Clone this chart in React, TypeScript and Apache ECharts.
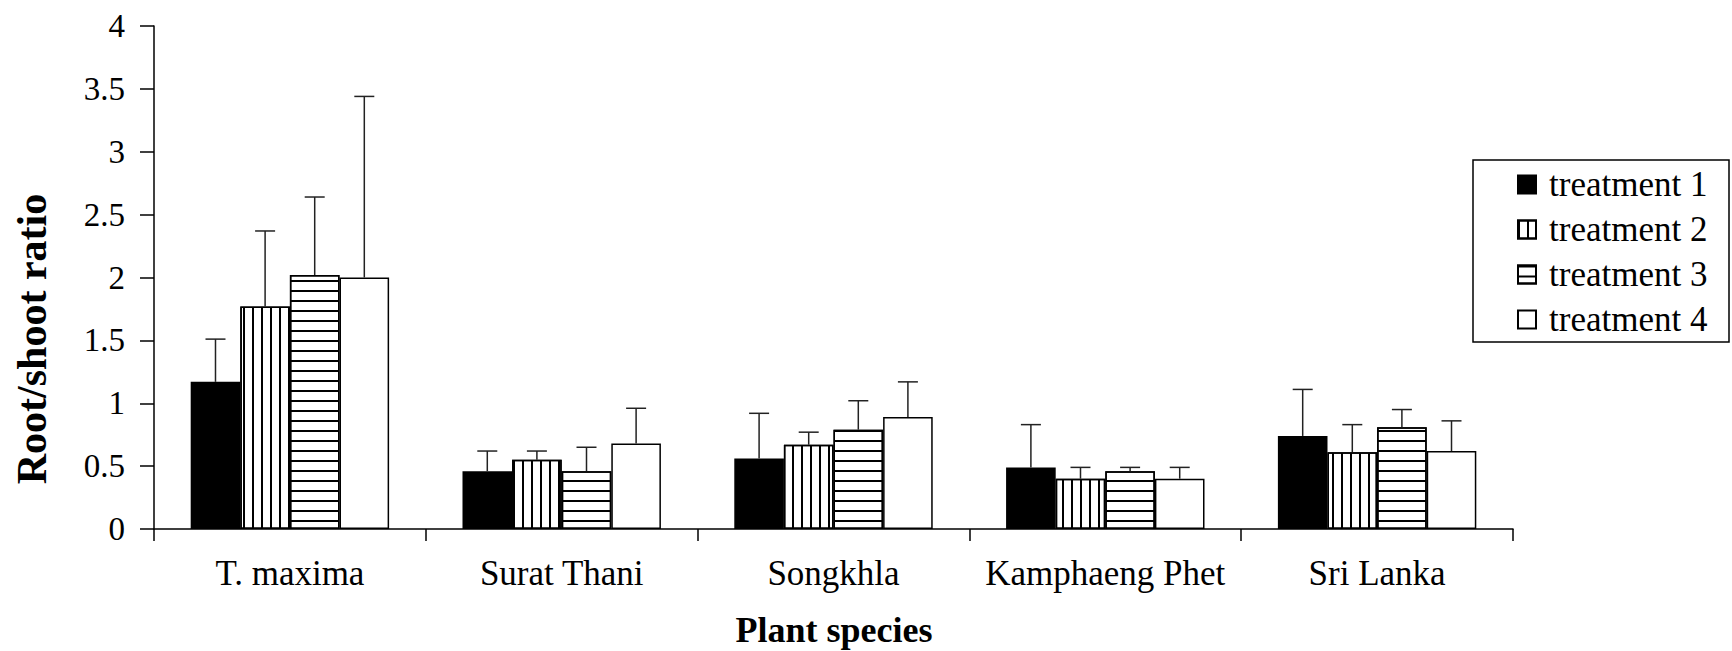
import React, { useEffect, useRef } from "react";
import * as echarts from "echarts";

const categories = ["T. maxima", "Surat Thani", "Songkhla", "Kamphaeng Phet", "Sri Lanka"];
const seriesNames = ["treatment 1", "treatment 2", "treatment 3", "treatment 4"];
const treatment1 = [1.17, 0.46, 0.56, 0.49, 0.74];
const treatment2 = [1.77, 0.55, 0.67, 0.4, 0.61];
const treatment3 = [2.02, 0.46, 0.79, 0.46, 0.81];
const treatment4 = [2.0, 0.68, 0.89, 0.4, 0.62];
const treatment1Err = [0.34, 0.16, 0.36, 0.34, 0.37];
const treatment2Err = [0.6, 0.07, 0.1, 0.09, 0.22];
const treatment3Err = [0.62, 0.19, 0.23, 0.03, 0.14];
const treatment4Err = [1.44, 0.28, 0.28, 0.09, 0.24];
const yTicks = [0, 0.5, 1, 1.5, 2, 2.5, 3, 3.5, 4];

const values = [treatment1, treatment2, treatment3, treatment4];
const errors = [treatment1Err, treatment2Err, treatment3Err, treatment4Err];

const SERIF = "Liberation Serif";
const CAT_GAP = 0.27;

const decals: any[] = [
  undefined,
  { symbol: "rect", symbolSize: 1, dashArrayX: [2, 6.3], dashArrayY: [1, 0], color: "#000", backgroundColor: "#fff", rotation: 0 },
  { symbol: "rect", symbolSize: 1, dashArrayX: [1, 0], dashArrayY: [2, 7.2], color: "#000", backgroundColor: "#fff", rotation: 0 },
  undefined,
];
const fills = ["#000", "#fff", "#fff", "#fff"];

export default function App() {
  const ref = useRef<HTMLDivElement>(null);
  useEffect(() => {
    if (!ref.current) return;
    const chart = echarts.init(ref.current, null, { renderer: "svg" });

    const barSeries = values.map((vals, k) => ({
      name: seriesNames[k],
      type: "bar",
      data: vals,
      barGap: "0%",
      barCategoryGap: CAT_GAP * 100 + "%",
      itemStyle: {
        color: fills[k],
        borderColor: "#000",
        borderWidth: 1.5,
        decal: decals[k],
      },
      z: 2,
    }));

    const errSeries = values.map((vals, k) => ({
      name: seriesNames[k] + " err",
      type: "custom",
      data: vals.map((v, i) => [i, v, errors[k][i]]),
      encode: { x: 0, y: 1 },
      z: 3,
      renderItem: (params: any, api: any) => {
        const ci = api.value(0);
        const v = api.value(1);
        const e = api.value(2);
        const bandW = api.size([1, 0])[0];
        const barW = (bandW * (1 - CAT_GAP)) / 4;
        const off = (k - 1.5) * barW;
        const p0 = api.coord([ci, v]);
        const p1 = api.coord([ci, v + e]);
        const x = p0[0] + off;
        const st = { stroke: "#222", lineWidth: 1.5 };
        return {
          type: "group",
          children: [
            { type: "line", shape: { x1: x, y1: p0[1], x2: x, y2: p1[1] }, style: st },
            { type: "line", shape: { x1: x - 10, y1: p1[1], x2: x + 10, y2: p1[1] }, style: st },
          ],
        };
      },
    }));

    chart.setOption({
      animation: false,
      backgroundColor: "#fff",
      grid: { left: 154, right: 219, top: 26, bottom: 122, containLabel: false },
      xAxis: {
        type: "category",
        data: categories,
        axisLine: { lineStyle: { color: "#000", width: 1.5 } },
        axisTick: { show: true, length: 12, lineStyle: { color: "#000", width: 1.5 } },
        axisLabel: { color: "#000", fontFamily: SERIF, fontSize: 35, margin: 27, interval: 0 },
      },
      yAxis: {
        type: "value",
        min: 0,
        max: 4,
        interval: 0.5,
        splitLine: { show: false },
        axisLine: { show: true, lineStyle: { color: "#000", width: 1.5 } },
        axisTick: { show: true, length: 14, lineStyle: { color: "#000", width: 1.5 } },
        axisLabel: {
          color: "#000",
          fontFamily: SERIF,
          fontSize: 33,
          margin: 29,
          formatter: (v: number) => (yTicks.indexOf(v) >= 0 ? String(v) : ""),
        },
      },
      legend: {
        data: seriesNames,
        orient: "vertical",
        left: 1517,
        top: 167,
        itemWidth: 18,
        itemHeight: 18,
        itemGap: 10,
        padding: 0,
        icon: "rect",
        textStyle: { color: "#000", fontFamily: SERIF, fontSize: 35, padding: [0, 0, 0, 8] },
      },
      graphic: [
        {
          type: "rect",
          shape: { x: 1473, y: 160, width: 256, height: 182 },
          style: { fill: "none", stroke: "#000", lineWidth: 1.5 },
          z: 0,
        },
        {
          type: "text",
          x: 32,
          y: 339,
          rotation: Math.PI / 2,
          style: {
            text: "Root/shoot ratio",
            fontFamily: SERIF,
            fontWeight: "bold",
            fontSize: 42,
            fill: "#000",
            textAlign: "center",
            textVerticalAlign: "middle",
          },
        },
        {
          type: "text",
          x: 834,
          y: 630,
          style: {
            text: "Plant species",
            fontFamily: SERIF,
            fontWeight: "bold",
            fontSize: 36,
            fill: "#000",
            textAlign: "center",
            textVerticalAlign: "middle",
          },
        },
      ],
      series: [...barSeries, ...errSeries],
    });
    return () => chart.dispose();
  }, []);
  return (
    <div
      ref={ref}
      style={{ position: "fixed", left: 0, top: 0, width: 1732, height: 651, background: "#fff" }}
    />
  );
}
